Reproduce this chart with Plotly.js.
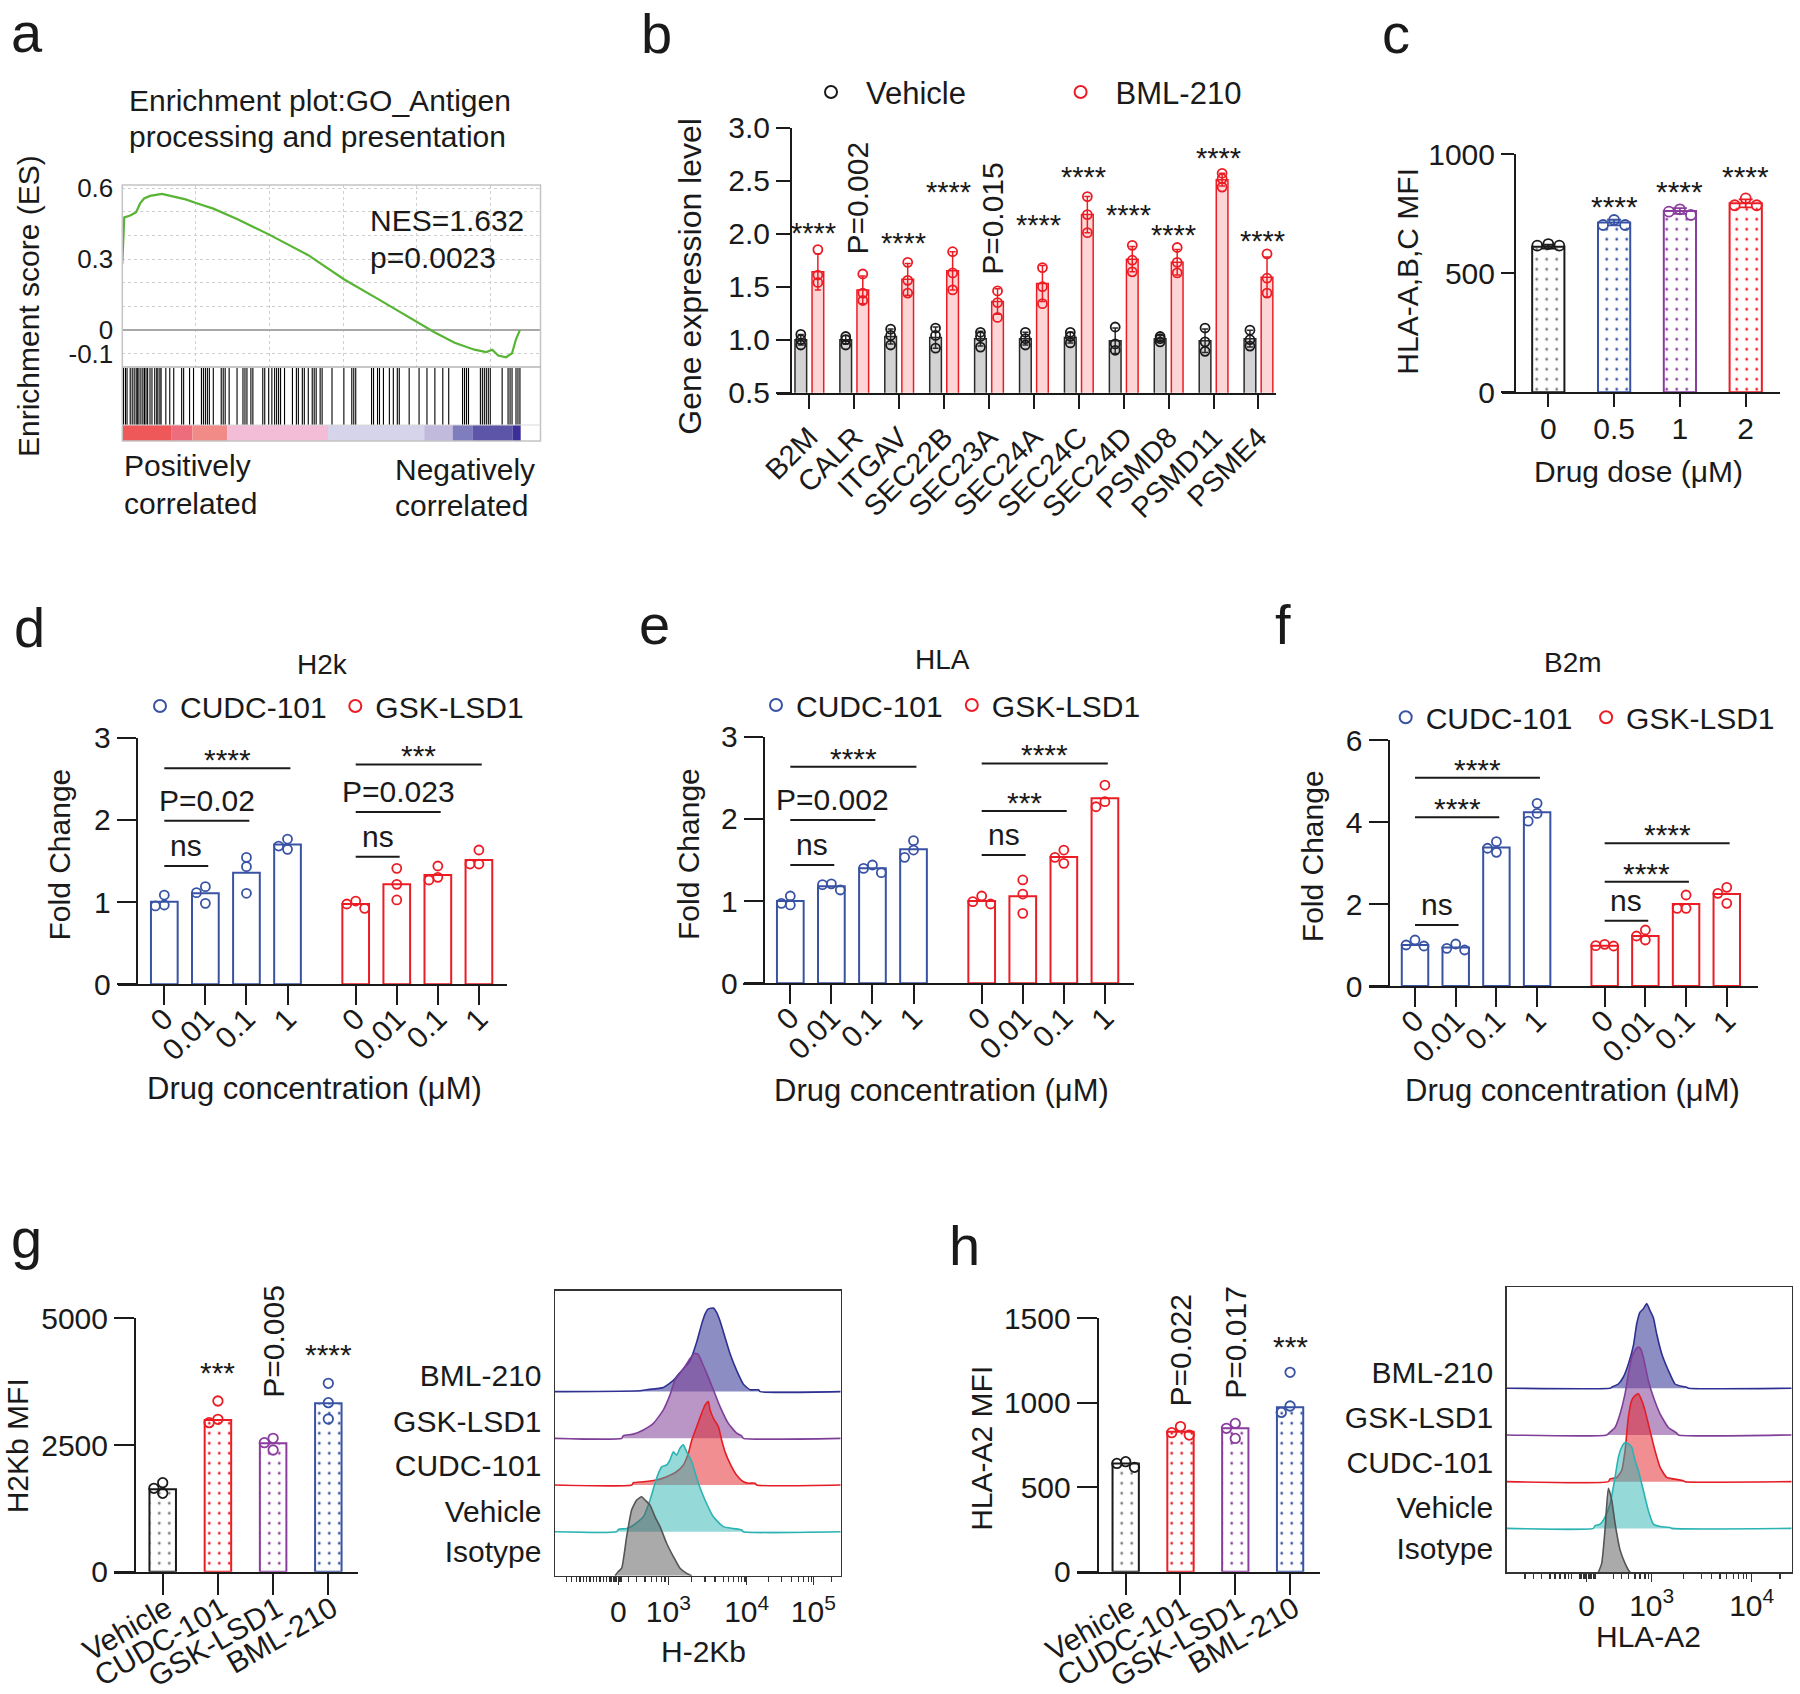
<!DOCTYPE html>
<html>
<head>
<meta charset="utf-8">
<script src="https://cdn.plot.ly/plotly-3.0.1.min.js"></script>
<style>
html,body{margin:0;padding:0;background:#ffffff;}
#fig{width:1800px;height:1694px;}
</style>
</head>
<body>
<div id="fig"></div>
<script>
// ======================= DATA =======================
// (a) GSEA running enrichment score, hits and ranked-list colour bands
const esRank  = [0,54,134,537,940,1209,1478,1881,2687,3493,4299,5105,6180,7792,9942,12629,15047,17466,19884,21227,22571,23915,24720,25123,25526,26063,26466,26734,27003];
const esScore = [0.281,0.405,0.477,0.485,0.499,0.536,0.557,0.568,0.576,0.565,0.553,0.536,0.514,0.470,0.405,0.317,0.215,0.128,0.041,-0.010,-0.054,-0.083,-0.093,-0.083,-0.108,-0.115,-0.098,-0.039,0.0];
const hitRanks = [81,215,322,537,672,806,940,1021,1129,1263,1397,1505,1612,1720,1881,2015,2203,2338,2418,2553,2633,2956,3224,3493,4031,4165,4568,4837,5374,5508,5643,5777,5911,6180,6718,6852,6986,7255,7792,8195,8330,8464,8733,8867,9539,9673,9942,10157,10345,10479,10614,10748,11017,11554,11823,11957,12226,12360,12629,12898,13032,13166,13435,13569,14241,15047,15585,15719,15853,16928,17062,17331,17466,17734,18137,18406,18675,18809,19481,20153,20690,21227,21765,22168,23108,23243,23377,23511,24317,24452,24586,24720,24855,24989,25795,26198,26333,26467,26736,26870,27004];
const rankBandEdges  = [0,3359,4756,7121,13971,20503,22436,23775,26519,27056];
const rankBandColors = ['#ef5858','#ee6d7c','#f08b87','#f3bdd8','#d6d4ea','#c1badc','#7f7dbe','#5d56a8','#3a2f99'];

// (b) gene expression
const genes   = ['B2M','CALR','ITGAV','SEC22B','SEC23A','SEC24A','SEC24C','SEC24D','PSMD8','PSMD11','PSME4'];
const vehMean = [1.00,1.00,1.03,1.02,1.01,1.01,1.02,0.99,1.01,0.99,1.01];
const vehSD   = [0.05,0.04,0.07,0.10,0.07,0.06,0.05,0.12,0.03,0.11,0.08];
const vehPts  = [[1.05,1.00,0.95],[1.03,1.00,0.95],[1.10,1.04,0.95],[1.11,1.04,0.92],[1.07,1.03,0.93],[1.07,1.01,0.95],[1.07,1.03,0.97],[1.12,0.96,0.90],[1.03,1.01,0.98],[1.11,0.98,0.89],[1.09,1.00,0.94]];
const bmlMean = [1.64,1.47,1.57,1.65,1.36,1.53,2.18,1.76,1.73,2.51,1.59];
const bmlSD   = [0.17,0.13,0.15,0.18,0.12,0.17,0.17,0.12,0.12,0.06,0.19];
const bmlPts  = [[1.85,1.61,1.54],[1.62,1.44,1.37],[1.73,1.56,1.44],[1.83,1.63,1.47],[1.46,1.35,1.21],[1.68,1.50,1.34],[2.35,2.18,2.01],[1.89,1.75,1.64],[1.87,1.73,1.63],[2.57,2.52,2.44],[1.81,1.58,1.44]];
const bSigText = ['****','P=0.002','****','****','P=0.015','****','****','****','****','****','****'];
const bSigY    = [2.075,2.34,1.981,2.46,2.145,2.151,2.60,2.245,2.051,2.783,1.997];

// (c) HLA-A,B,C MFI vs dose
const cDose  = ['0','0.5','1','2'];
const cMean  = [612,713,762,794];
const cSD    = [8,12,12,17];
const cPts   = [[616,623,616],[703,724,703],[745,769,759],[786,815,786]];
const cSig   = ['','****','****','****'];
const cSigY  = [null,812,874,937];

// (d)(e)(f) fold change vs drug concentration
const concLabels = ['0','0.01','0.1','1'];
const dCudcMean = [1.005,1.107,1.358,1.70];
const dCudcPts  = [[0.953,1.086,0.965],[1.188,0.985,1.115],[1.544,1.107,1.431],[1.767,1.642,1.682]];
const dGskMean  = [0.977,1.216,1.33,1.512];
const dGskPts   = [[0.924,1.013,0.977],[1.411,1.216,1.026],[1.269,1.439,1.301],[1.463,1.634,1.463]];
const dBrackets = [[0,0,3,2.627,'****'],[0,0,2,1.99,'P=0.02'],[0,0,1,1.439,'ns'],[1,0,3,2.675,'***'],[1,0,2,2.096,'P=0.023'],[1,0,1,1.553,'ns']];
const eCudcMean = [1.0,1.18,1.40,1.63];
const eCudcPts  = [[0.953,1.062,0.973],[1.135,1.21,1.20],[1.346,1.439,1.398],[1.532,1.735,1.621]];
const eGskMean  = [1.0,1.06,1.535,2.25];
const eGskPts   = [[0.965,1.062,0.993],[1.257,1.086,0.851],[1.621,1.459,1.532],[2.148,2.412,2.209]];
const eBrackets = [[0,0,3,2.635,'****'],[0,0,2,1.986,'P=0.002'],[0,0,1,1.439,'ns'],[1,0,3,2.675,'****'],[1,0,2,2.096,'***'],[1,0,1,1.561,'ns']];
const fCudcMean = [1.0,0.94,3.38,4.24];
const fCudcPts  = [[0.976,1.122,1.0],[0.878,1.024,0.919],[3.52,3.26,3.36],[4.02,4.455,4.21]];
const fGskMean  = [0.984,1.22,2.0,2.244];
const fGskPts   = [[0.976,1.016,0.984],[1.366,1.122,1.22],[1.894,2.22,1.894],[2.407,2.016,2.26]];
const fBrackets = [[0,0,3,5.08,'****'],[0,0,2,4.114,'****'],[0,0,1,1.488,'ns'],[1,0,3,3.48,'****'],[1,0,2,2.545,'****'],[1,0,1,1.593,'ns']];

// (g)(h) MFI bars
const treatments = ['Vehicle','CUDC-101','GSK-LSD1','BML-210'];
const gMean = [1625,2993,2533,3322];
const gPts  = [[1546,1757,1645],[2941,3368,3007],[2401,2632,2546],[3013,3717,3336]];
const gSig  = ['','***','P=0.005','****'];
const gSigY = [null,4066,4540,4428];
const hMean = [641,829,849,973];
const hPts  = [[618,651,641],[809,859,823],[878,789,849],[943,1180,981]];
const hSig  = ['','P=0.022','P=0.017','***'];
const hSigY = [null,1312,1357,1372];

// (g)(h) flow histograms: display-scale position (0-1000) and height (row units)
const histNames = ['BML-210','GSK-LSD1','CUDC-101','Vehicle','Isotype'];
const gBmlX  = [0,297.6,320.9,379.3,414.3,437.6,472.6,496,513.5,525.1,536.8,554.3,566,577.7,595.2,612.7,636,659.4,682.7,711.9,717.7,1000];
const gBmlH  = [0,0.02,0.04,0.09,0.24,0.41,0.66,1.06,1.45,1.66,1.77,1.79,1.69,1.51,1.16,0.81,0.45,0.16,0.04,0.04,0,0];
const gGskX  = [0,233.4,239.3,274.3,309.3,344.3,379.3,402.6,420.1,437.6,455.1,472.6,490.1,501.8,513.5,531,554.3,577.7,606.8,636,653.5,659.4,1000];
const gGskH  = [0,0,0.06,0.09,0.18,0.32,0.61,0.93,1.25,1.39,1.54,1.71,1.82,1.79,1.64,1.39,1.04,0.68,0.32,0.11,0.05,0,0];
const gCudcX = [0,268.4,274.3,309.3,356,391,426,449.4,466.9,478.6,496,513.5,525.1,536.8,542.7,554.3,571.8,583.5,595.2,612.7,636,659.4,676.9,700.2,706,1000];
const gCudcH = [0,0,0.05,0.07,0.11,0.18,0.29,0.43,0.68,0.96,1.25,1.54,1.71,1.79,1.61,1.43,1.25,0.96,0.71,0.46,0.21,0.07,0.04,0.04,0,0];
const gVehX  = [0,215.9,221.7,250.9,274.3,309.3,332.7,350.2,361.8,373.5,391,402.6,414.3,426,437.6,449.3,461,478.5,501.8,525.1,554.3,589.3,624.3,653.5,659.4,1000];
const gVehH  = [0,0,0.05,0.07,0.14,0.32,0.68,1.04,1.25,1.39,1.43,1.54,1.71,1.64,1.79,1.86,1.71,1.5,1.04,0.68,0.32,0.11,0.07,0.04,0,0];
const gIsoX  = [210,221.7,233.4,250.9,268.4,285.9,303.4,315.1,332.6,350.2,367.7,391,414.3,437.6,461,478.5];
const gIsoH  = [0,0.09,0.16,0.84,1.41,1.62,1.69,1.62,1.51,1.26,1.05,0.69,0.41,0.16,0.05,0];
const gMajorTicks = [221.7,396.7,671,904.3];
const gMajorText  = ['0','10<sup>3</sup>','10<sup>4</sup>','10<sup>5</sup>'];
const gMinorTicks = [40.8,58.3,75.8,87.5,99.2,110.8,122.5,134.2,145.9,157.6,169.2,180.9,192.6,198.4,204.3,210.1,215.9,227.6,233.4,256.7,285.9,315.1,338.4,355.9,373.4,385.1,478.4,525.1,560.1,589.3,606.8,624.3,641.8,653.5,665.2,746.8,793.5,828.5,851.8,869.3,886.8,898.5,968.5];

const hBmlX  = [0,362.6,368.4,391.8,409.4,427,444.5,456.2,467.9,479.6,491.3,503,514.7,526.3,543.9,567.3,590.6,614,631.6,637.4,1000];
const hBmlH  = [0,0,0.02,0.09,0.24,0.52,0.91,1.38,1.63,1.7,1.81,1.66,1.51,1.16,0.74,0.38,0.09,0.04,0.02,0,0];
const hGskX  = [0,350.9,362.6,380.1,397.7,415.2,426.9,438.6,450.3,462,470.2,479.6,497.1,514.7,538.1,567.3,596.6,602.4,1000];
const hGskH  = [0,0,0.06,0.16,0.45,0.88,1.31,1.66,1.81,1.88,1.84,1.66,1.16,0.81,0.45,0.16,0.04,0,0];
const hCudcX = [0,356.7,362.6,386,403.5,415.2,426.9,438.6,450.3,462,473.7,485.4,502.9,520.5,538,561.4,584.8,619.9,625.7,1000];
const hCudcH = [0,0,0.06,0.09,0.24,0.66,1.38,1.74,1.84,1.88,1.74,1.52,1.09,0.66,0.31,0.09,0.06,0.02,0,0];
const hVehX  = [0,304.1,309.9,327.5,345,362.6,380.1,391.8,403.5,415.2,426.9,438.6,450.3,462,479.6,497.1,514.7,538.1,573.2,579,1000];
const hVehH  = [0,0,0.06,0.09,0.24,0.52,1.09,1.52,1.74,1.84,1.81,1.74,1.45,1.24,0.81,0.38,0.09,0.04,0.02,0,0];
const hIsoX  = [321.6,333.3,345,356.7,368.4,380.1,397.7,415.2,426.9,432.7];
const hIsoH  = [0,0.19,0.91,1.8,1.55,1.05,0.48,0.19,0.05,0];
const hMajorTicks = [280.7,508.8,859.6];
const hMajorText  = ['0','10<sup>3</sup>','10<sup>4</sup>'];
const hMinorTicks = [64.3,93.6,122.8,152,169.6,187.1,204.7,216.4,228.1,257.3,263.2,269,274.9,286.6,292.4,298.2,304.1,309.9,374.3,403.5,426.9,450.3,467.9,485.4,497.1,619.9,684.2,719.3,748.5,771.9,795.3,812.9,830.4,842.1,959.1];

// ======================= STYLE / GEOMETRY =======================
const W = 1800, H = 1694;
const FONT = '"Liberation Sans", Arial, Helvetica, sans-serif';
const INK = '#1a1a1a';
const BLUE = '#3953a4', RED = '#ec1c24', PURPLE = '#8b3d9e', BLACK = '#1a1a1a';
const fx = p => p / W, fy = p => 1 - p / H;
const xdom = (a, b) => [fx(a), fx(b)];
const ydom = (t, b) => [fy(b), fy(t)];
const f = (size, color) => ({family: FONT, size: size, color: color || INK});
const sfx = n => (n === 1 ? '' : String(n));

const layout = {
  width: W, height: H, margin: {l: 0, r: 0, t: 0, b: 0, pad: 0},
  paper_bgcolor: '#ffffff', plot_bgcolor: 'rgba(0,0,0,0)',
  showlegend: true, barmode: 'overlay', hovermode: false,
  font: f(30), annotations: [], shapes: []
};
const traces = [];

function note(o) { layout.annotations.push(Object.assign({showarrow: false, font: f(30), xanchor: 'center', yanchor: 'middle', borderpad: 0}, o)); }
function ptext(text, xp, yp, o) { note(Object.assign({text: text, xref: 'paper', yref: 'paper', x: fx(xp), y: fy(yp)}, o || {})); }

function barPanel(n, g) {
  const s = sfx(n);
  layout['xaxis' + s] = {domain: xdom(g.x0, g.x1), range: g.xr, anchor: 'y' + s, showline: true, linecolor: INK, linewidth: 2,
    ticks: 'outside', ticklen: g.xtl, tickwidth: 2, tickcolor: INK, tickmode: 'array', tickvals: g.tv, ticktext: g.tt,
    tickangle: g.ta || 0, tickfont: f(g.xfs || 30), showgrid: false, zeroline: false, fixedrange: true,
    ticklabelstandoff: g.xso || 0, ticklabelshift: g.xsh || 0};
  layout['yaxis' + s] = {domain: ydom(g.y0, g.y1), range: g.yr, anchor: 'free', position: fx(g.yx), showline: true, linecolor: INK, linewidth: 2,
    ticks: 'outside', ticklen: g.ytl, tickwidth: 2, tickcolor: INK, tickmode: 'array', tickvals: g.ytv, tickformat: g.yfmt || '',
    tickfont: f(30), showgrid: false, zeroline: false, fixedrange: true, ticklabelstandoff: g.yso || 0};
  return {xa: 'x' + s, ya: 'y' + s, pxX: (g.x1 - g.x0) / (g.xr[1] - g.xr[0]), pxY: (g.y1 - g.y0) / (g.yr[1] - g.yr[0])};
}

// simple beeswarm: spread replicate points sideways only when they would overlap
function swarm(vals, pxPerUnit, stepPx, diam) {
  const off = vals.map(() => 0);
  if (!stepPx) return off;
  const order = vals.map((v, i) => i).sort((a, b) => vals[b] - vals[a]);
  const placed = [];
  order.forEach(i => {
    const y = vals[i] * pxPerUnit;
    for (const c of [0, -1, 1, -2, 2]) {
      if (placed.every(p => Math.hypot((p.c - c) * stepPx, p.y - y) >= diam)) { placed.push({c: c, y: y}); off[i] = c * stepPx; return; }
    }
  });
  return off;
}
function pts(pos, reps, P, stepPx, color, size, extra) {
  const xs = [], ys = [];
  reps.forEach((r, i) => {
    const off = swarm(r, P.pxY, stepPx, 8.6);
    r.forEach((v, j) => { xs.push(pos[i] + off[j] / P.pxX); ys.push(v); });
  });
  return Object.assign({type: 'scatter', mode: 'markers', x: xs, y: ys, xaxis: P.xa, yaxis: P.ya,
    marker: {symbol: 'circle-open', size: size || 9, color: color, line: {width: 1.8, color: color}},
    cliponaxis: false, hoverinfo: 'skip', showlegend: false}, extra || {});
}
// symbol centre lands at (itemwidth + 10)/2 from the legend's left edge
function legendAt(key, xp, yp, size, itemw) {
  const iw = itemw || 30;
  layout[key] = {x: fx(xp - (iw + 10) / 2), y: fy(yp), xanchor: 'left', yanchor: 'middle', orientation: 'h', bgcolor: 'rgba(0,0,0,0)',
    borderwidth: 0, font: f(size || 30), itemsizing: 'constant', itemwidth: iw, tracegroupgap: 0};
}

// ======================= (a) GSEA =======================
const A_X = [122.3, 540.5];
layout.xaxis = {domain: xdom(A_X[0], A_X[1]), range: [0, 28400], anchor: 'y', showline: false, showticklabels: false, ticks: '',
  tickmode: 'array', tickvals: [5000, 10000, 15000, 20000, 25000], showgrid: true, gridcolor: '#cfcfcf', griddash: 'dot', gridwidth: 1,
  zeroline: false, fixedrange: true};
layout.yaxis = {domain: ydom(185, 366.7), range: [-0.155, 0.614], anchor: 'x', showline: false, ticks: '', tickmode: 'array',
  tickvals: [-0.1, 0, 0.3, 0.6], ticktext: ['-0.1', '0', '0.3', '0.6'], tickfont: f(26),
  showgrid: true, gridcolor: '#cfcfcf', griddash: 'dot', gridwidth: 1,
  minor: {tickmode: 'array', tickvals: [0.1, 0.2, 0.4, 0.5], ticks: '', showgrid: true, gridcolor: '#cfcfcf', griddash: 'dot', gridwidth: 1},
  zeroline: true, zerolinecolor: '#a8a8a8', zerolinewidth: 1.2, fixedrange: true, ticklabelstandoff: 8};
layout.xaxis2 = {domain: xdom(A_X[0], A_X[1]), range: [0, 28400], anchor: 'y2', visible: false, fixedrange: true};
layout.yaxis2 = {domain: ydom(368, 425), range: [0, 1], anchor: 'x2', visible: false, fixedrange: true};
layout.xaxis3 = {domain: xdom(A_X[0], A_X[1]), range: [0, 28400], anchor: 'y3', visible: false, fixedrange: true};
layout.yaxis3 = {domain: ydom(425, 441), range: [-0.5, 0.5], anchor: 'x3', visible: false, fixedrange: true};

traces.push({type: 'scatter', mode: 'lines', x: esRank, y: esScore, xaxis: 'x', yaxis: 'y', line: {color: '#58b434', width: 2.2},
  hoverinfo: 'skip', showlegend: false});
const hx = [], hy = [];
hitRanks.forEach(r => { hx.push(r, r, null); hy.push(0, 1, null); });
traces.push({type: 'scatter', mode: 'lines', x: hx, y: hy, xaxis: 'x2', yaxis: 'y2', line: {color: '#000000', width: 1.1},
  hoverinfo: 'skip', showlegend: false});
const bandStarts = rankBandEdges.slice(0, -1);
traces.push({type: 'bar', orientation: 'h', y: bandStarts.map(() => 0), x: bandStarts.map((s, i) => rankBandEdges[i + 1] - s),
  base: bandStarts, width: 1, marker: {color: rankBandColors, line: {width: 0}}, xaxis: 'x3', yaxis: 'y3', hoverinfo: 'skip', showlegend: false});
layout.shapes.push(
  {type: 'rect', xref: 'paper', yref: 'paper', x0: fx(A_X[0]), x1: fx(A_X[1]), y0: fy(441), y1: fy(185), line: {color: '#c4c4c4', width: 1.5}},
  {type: 'line', xref: 'paper', yref: 'paper', x0: fx(A_X[0]), x1: fx(A_X[1]), y0: fy(367), y1: fy(367), line: {color: '#b4b4b4', width: 1.5}},
  {type: 'line', xref: 'paper', yref: 'paper', x0: fx(A_X[0]), x1: fx(A_X[1]), y0: fy(425), y1: fy(425), line: {color: '#d8d8d8', width: 1}}
);
ptext('Enrichment plot:GO_Antigen', 127.5, 100.5, {xanchor: 'left'});
ptext('processing and presentation', 127.5, 136.5, {xanchor: 'left'});
ptext('NES=1.632', 368.7, 221, {xanchor: 'left'});
ptext('p=0.0023', 368.7, 257.5, {xanchor: 'left'});
ptext('Enrichment score (ES)', 29, 306, {textangle: -90});
ptext('Positively', 122.8, 465.5, {xanchor: 'left'});
ptext('correlated', 122.8, 503, {xanchor: 'left'});
ptext('Negatively', 394.4, 469, {xanchor: 'left'});
ptext('correlated', 394.4, 505.6, {xanchor: 'left'});

// ======================= (b) gene expression =======================
const B = barPanel(4, {x0: 777, x1: 1276, xr: [-0.72, 10.39], xtl: 14, tv: genes.map((g, i) => i), tt: genes, ta: -45, xfs: 29,
  y0: 127.7, y1: 392.7, yr: [0.5, 3.0], yx: 791, ytl: 14, ytv: [0.5, 1, 1.5, 2, 2.5, 3], yfmt: '.1f'});
const bOff = 0.19, bW = 0.26;
const bxV = genes.map((g, i) => i - bOff), bxB = genes.map((g, i) => i + bOff);
traces.push({type: 'bar', x: bxV, y: vehMean, width: bW, xaxis: B.xa, yaxis: B.ya, marker: {color: '#d3d3d3', line: {color: '#2a2a2a', width: 1.5}},
  error_y: {type: 'data', array: vehSD, color: '#2a2a2a', thickness: 1.5, width: 3}, hoverinfo: 'skip', showlegend: false});
traces.push({type: 'bar', x: bxB, y: bmlMean, width: bW, xaxis: B.xa, yaxis: B.ya, marker: {color: '#fcd6d6', line: {color: RED, width: 1.5}},
  error_y: {type: 'data', array: bmlSD, color: RED, thickness: 1.5, width: 3}, hoverinfo: 'skip', showlegend: false});
traces.push(pts(bxV, vehPts, B, 0, BLACK, 9, {name: 'Vehicle', showlegend: true, legend: 'legend'}));
traces.push(pts(bxB, bmlPts, B, 0, RED, 9, {name: 'BML-210', showlegend: true, legend: 'legend2'}));
legendAt('legend', 831, 92.3, 31, 60);
legendAt('legend2', 1080.6, 92.3, 31, 60);
bSigText.forEach((t, i) => {
  if (t.charAt(0) === 'P') note({text: t, xref: B.xa, yref: B.ya, x: i + bOff, xshift: -5, y: bSigY[i], textangle: -90, font: f(30)});
  else note({text: t, xref: B.xa, yref: B.ya, x: i + 0.1, y: bSigY[i], yshift: -7, font: f(29)});
});
ptext('Gene expression level', 690, 276.7, {textangle: -90, font: f(32)});

// ======================= (c) HLA-A,B,C MFI =======================
const C = barPanel(5, {x0: 1501.7, x1: 1780, xr: [-0.708, 3.521], xtl: 13, tv: [0, 1, 2, 3], tt: cDose, xso: -4,
  y0: 154.3, y1: 392.3, yr: [0, 1000], yx: 1515, ytl: 13, ytv: [0, 500, 1000]});
const cColors = [BLACK, BLUE, PURPLE, RED], cDots = ['#7a7a7a', BLUE, PURPLE, RED];
cDose.forEach((d, i) => {
  traces.push({type: 'bar', x: [i], y: [cMean[i]], width: 0.49, xaxis: C.xa, yaxis: C.ya,
    marker: {color: '#ffffff', line: {color: cColors[i], width: 2}, pattern: {shape: '.', fgcolor: cDots[i], bgcolor: '#ffffff', size: 10, solidity: 0.06, fillmode: 'replace'}},
    error_y: {type: 'data', array: [cSD[i]], color: cColors[i], thickness: 1.8, width: 7}, hoverinfo: 'skip', showlegend: false});
  traces.push(pts([i], [cPts[i]], C, 11, cColors[i], 10));
  if (cSig[i]) note({text: cSig[i], xref: C.xa, yref: C.ya, x: i, y: cSigY[i], yshift: -7});
});
ptext('HLA-A,B,C MFI', 1408, 271.7, {textangle: -90});
ptext('Drug dose (μM)', 1638.3, 471.5);

// ======================= (d)(e)(f) fold change =======================
const GRP = 4.66;
const gpos = (g, k) => k + g * GRP;
function doseChart(n, geom, cudcMean, cudcPts, gskMean, gskPts, brackets, legKeys, legY, legX) {
  const tv = [], tt = [];
  [0, 1].forEach(g => concLabels.forEach((l, k) => { tv.push(gpos(g, k)); tt.push(l); }));
  const P = barPanel(n, Object.assign({xtl: 19, tv: tv, tt: tt, ta: -45, ytl: 19, xso: -16}, geom));
  [[cudcMean, cudcPts, BLUE, 'CUDC-101', legKeys[0]], [gskMean, gskPts, RED, 'GSK-LSD1', legKeys[1]]].forEach((s, g) => {
    const pos = concLabels.map((l, k) => gpos(g, k));
    traces.push({type: 'bar', x: pos, y: s[0], width: 0.65, xaxis: P.xa, yaxis: P.ya,
      marker: {color: 'rgba(0,0,0,0)', line: {color: s[2], width: 2}}, hoverinfo: 'skip', showlegend: false});
    traces.push(pts(pos, s[1], P, 8.9, s[2], 9, {name: s[3], showlegend: true, legend: s[4]}));
  });
  brackets.forEach(b => {
    const x0 = gpos(b[0], b[1]), x1 = gpos(b[0], b[2]) + 0.07;
    layout.shapes.push({type: 'line', xref: P.xa, yref: P.ya, x0: x0, x1: x1, y0: b[3], y1: b[3], line: {color: INK, width: 2}});
    note({text: b[4], xref: P.xa, yref: P.ya, x: (x0 + x1) / 2, y: b[3], yanchor: 'bottom', yshift: b[4].charAt(0) === '*' ? -9 : 3});
  });
  legendAt(legKeys[0], legX[0], legY, 30, 30);
  legendAt(legKeys[1], legX[1], legY, 30, 30);
  return P;
}
doseChart(6, {x0: 117.9, x1: 507, xr: [-1.13, 8.344], y0: 737.7, y1: 984.3, yr: [0, 3], yx: 136.8, ytv: [0, 1, 2, 3]},
  dCudcMean, dCudcPts, dGskMean, dGskPts, dBrackets, ['legend3', 'legend4'], 706, [160, 355.3]);
doseChart(7, {x0: 743.2, x1: 1133.5, xr: [-1.147, 8.356], y0: 736.7, y1: 983.3, yr: [0, 3], yx: 763.6, ytv: [0, 1, 2, 3]},
  eCudcMean, eCudcPts, eGskMean, eGskPts, eBrackets, ['legend5', 'legend6'], 705, [776, 971.8]);
doseChart(8, {x0: 1368.5, x1: 1757.7, xr: [-1.143, 8.42], y0: 740, y1: 986, yr: [0, 6], yx: 1388.5, ytv: [0, 2, 4, 6]},
  fCudcMean, fCudcPts, fGskMean, fGskPts, fBrackets, ['legend7', 'legend8'], 717.3, [1405.7, 1606.1]);
ptext('H2k', 322.3, 664.5, {font: f(28)});
ptext('HLA', 942.3, 659.5, {font: f(28)});
ptext('B2m', 1572.6, 662.5, {font: f(28)});
ptext('Fold Change', 58.5, 855, {textangle: -90});
ptext('Fold Change', 688, 854, {textangle: -90});
ptext('Fold Change', 1312.5, 856.7, {textangle: -90});
ptext('Drug concentration (μM)', 314.3, 1088.3, {font: f(31)});
ptext('Drug concentration (μM)', 941.4, 1090, {font: f(31)});
ptext('Drug concentration (μM)', 1572.5, 1090, {font: f(31)});

// ======================= (g)(h) MFI bars =======================
const trtColors = [BLACK, RED, PURPLE, BLUE], trtDots = ['#7a7a7a', RED, PURPLE, BLUE];
function mfiChart(n, geom, mean, reps, sig, sigY) {
  const P = barPanel(n, Object.assign({xtl: 21, tv: [0, 1, 2, 3], tt: treatments, ta: -30, xfs: 30, ytl: 20, xso: -15, xsh: 4}, geom));
  treatments.forEach((t, i) => {
    traces.push({type: 'bar', x: [i], y: [mean[i]], width: 0.48, xaxis: P.xa, yaxis: P.ya,
      marker: {color: '#ffffff', line: {color: trtColors[i], width: 2}, pattern: {shape: '.', fgcolor: trtDots[i], bgcolor: '#ffffff', size: 10, solidity: 0.06, fillmode: 'replace'}},
      hoverinfo: 'skip', showlegend: false});
    traces.push(pts([i], [reps[i]], P, 8.8, trtColors[i], 9.5));
    if (sig[i]) {
      if (sig[i].charAt(0) === 'P') note({text: sig[i], xref: P.xa, yref: P.ya, x: i, y: sigY[i], textangle: -90});
      else note({text: sig[i], xref: P.xa, yref: P.ya, x: i, y: sigY[i], yshift: -7});
    }
  });
  return P;
}
mfiChart(9, {x0: 114.3, x1: 358.3, xr: [-0.877, 3.543], y0: 1318.3, y1: 1571.7, yr: [0, 5000], yx: 135, ytv: [0, 2500, 5000]}, gMean, gPts, gSig, gSigY);
mfiChart(11, {x0: 1076.7, x1: 1320, xr: [-0.894, 3.546], y0: 1318.3, y1: 1571.7, yr: [0, 1500], yx: 1097.7, ytv: [0, 500, 1000, 1500]}, hMean, hPts, hSig, hSigY);
ptext('H2Kb MFI', 17.5, 1445.8, {textangle: -90});
ptext('HLA-A2 MFI', 981.5, 1448.3, {textangle: -90});

// ======================= (g)(h) histograms =======================
const rowBase = [3.94, 2.94, 1.94, 0.94, 0];
const rowLabelY = [4.28, 3.31, 2.35, 1.38, 0.51];
const histLine = ['#2e3192', '#7f3f98', '#e41e26', '#2bb3b3', '#555555'];
const histFill = ['rgba(46,49,146,0.55)', 'rgba(127,63,152,0.55)', 'rgba(228,30,38,0.5)', 'rgba(43,179,179,0.5)', 'rgba(85,85,85,0.5)'];
function histPanel(n, x0, x1, y0, y1, major, majorText, minor, series, so) {
  const s = sfx(n);
  layout['xaxis' + s] = {domain: xdom(x0, x1), range: [0, 1000], anchor: 'y' + s, showline: true, mirror: true, linecolor: '#333', linewidth: 1.5,
    ticks: 'outside', ticklen: 8, tickwidth: 1.5, tickcolor: '#333', tickmode: 'array', tickvals: major, ticktext: majorText, tickfont: f(30),
    minor: {tickmode: 'array', tickvals: minor, ticks: 'outside', ticklen: 5, tickwidth: 1.2, tickcolor: '#333'},
    showgrid: false, zeroline: false, fixedrange: true, ticklabelstandoff: so};
  layout['yaxis' + s] = {domain: ydom(y0, y1), range: [0, 6.1], anchor: 'x' + s, showline: true, mirror: true, linecolor: '#333', linewidth: 1.5,
    ticks: '', tickmode: 'array', tickvals: rowLabelY, ticktext: histNames, tickfont: f(30), showgrid: false, zeroline: false, fixedrange: true, ticklabelstandoff: 6};
  series.forEach((sr, i) => {
    traces.push({type: 'scatter', mode: 'lines', x: sr[0], y: sr[1].map(h => h + rowBase[i]), xaxis: 'x' + s, yaxis: 'y' + s,
      fill: 'toself', fillcolor: histFill[i], line: {color: histLine[i], width: 1.6, shape: 'spline', smoothing: 0.5}, hoverinfo: 'skip', showlegend: false});
  });
}
histPanel(10, 555, 840.7, 1290.7, 1575.7, gMajorTicks, gMajorText, gMinorTicks,
  [[gBmlX, gBmlH], [gGskX, gGskH], [gCudcX, gCudcH], [gVehX, gVehH], [gIsoX, gIsoH]], 1);
histPanel(12, 1506.7, 1791.7, 1287.3, 1572.3, hMajorTicks, hMajorText, hMinorTicks,
  [[hBmlX, hBmlH], [hGskX, hGskH], [hCudcX, hCudcH], [hVehX, hVehH], [hIsoX, hIsoH]], -2);
ptext('H-2Kb', 703.3, 1651.7);
ptext('HLA-A2', 1648.3, 1636);

// ======================= panel letters =======================
[['a', 10, 32], ['b', 639.5, 33.5], ['c', 1381, 33.5], ['d', 12.5, 627.5], ['e', 637.9, 624.2], ['f', 1273.8, 624.2], ['g', 10, 1238.6], ['h', 948.3, 1245.9]]
  .forEach(l => ptext(l[0], l[1], l[2], {xanchor: 'left', font: f(56)}));

Plotly.newPlot('fig', traces, layout, {staticPlot: true, responsive: false});
</script>
</body>
</html>
